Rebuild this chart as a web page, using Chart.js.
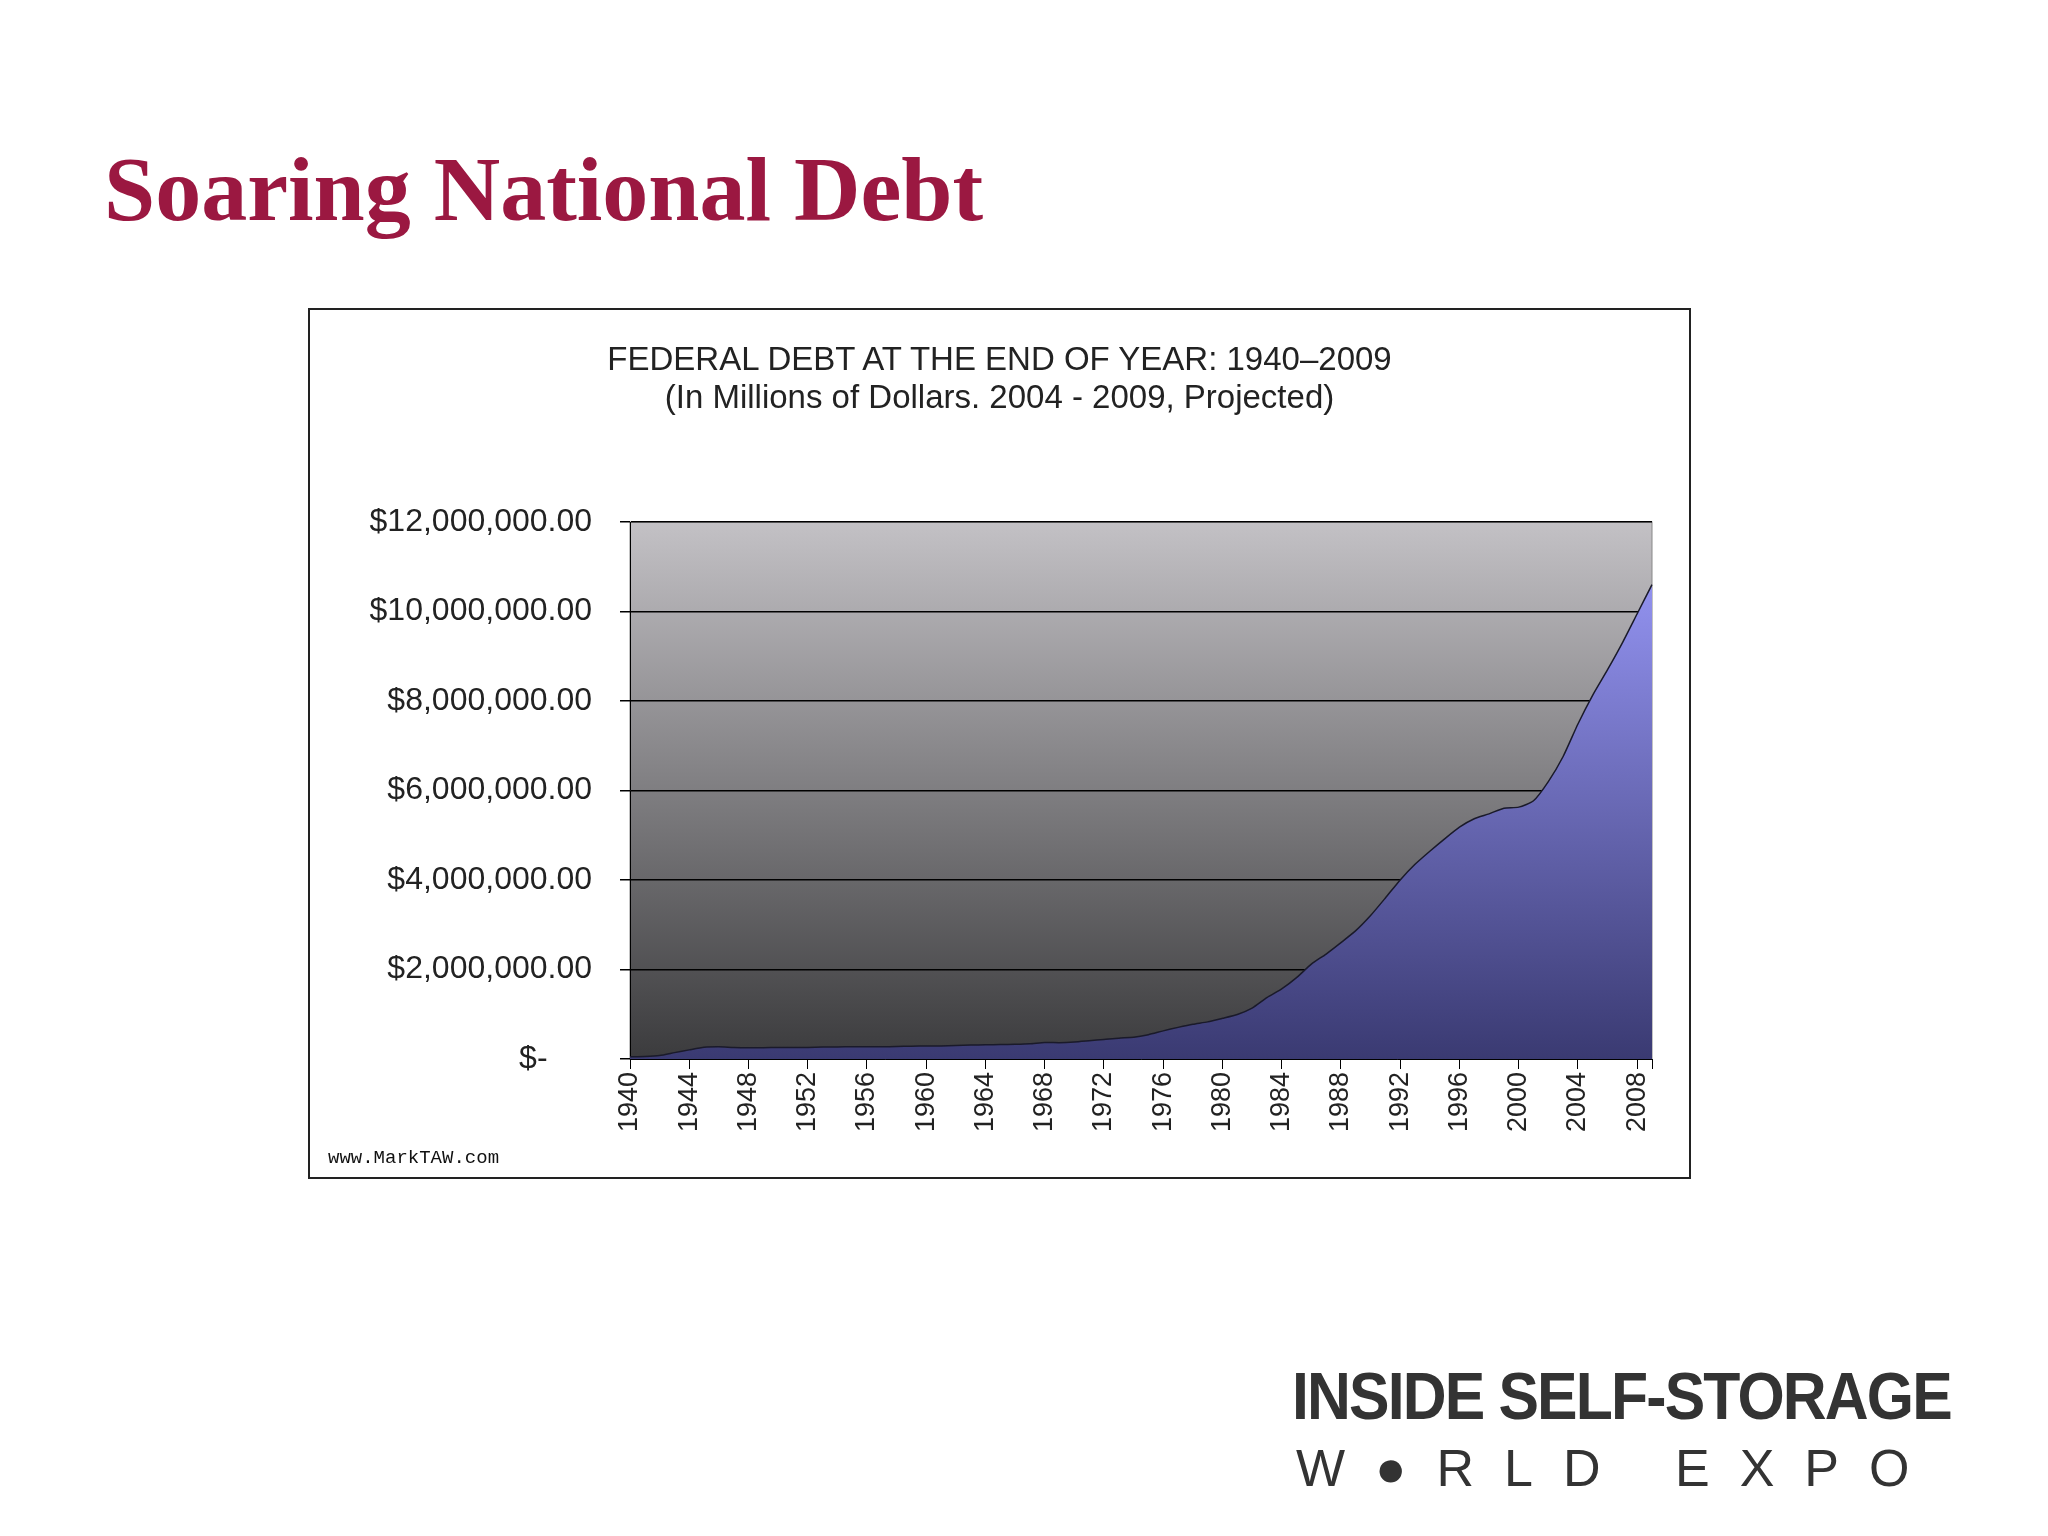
<!DOCTYPE html>
<html>
<head>
<meta charset="utf-8">
<script src="https://cdn.jsdelivr.net/npm/chart.js@4.4.0/dist/chart.umd.min.js"></script>
<style>
  body { margin: 0; width: 2048px; height: 1536px; background: #fff; position: relative; overflow: hidden; }
  #title { position: absolute; left: 104px; top: 136px; font: bold 92px "Liberation Serif", serif; color: #9b1841; }
  #box { position: absolute; left: 308px; top: 308px; width: 1379px; height: 867px; border: 2px solid #222; }
  #ctitle { position: absolute; left: 0; width: 100%; top: 30px; text-align: center; font: 33px "Liberation Sans", Arial, sans-serif; color: #222; line-height: 38px; }
  #url { position: absolute; left: 18px; bottom: 8px; font: 19px "Liberation Mono", monospace; color: #111; }
  #logo1 { position: absolute; left: 1292px; top: 1358px; font: bold 66px "Liberation Sans Narrow", "Liberation Sans", sans-serif; color: #333; letter-spacing: -2px; transform: scaleX(0.92); transform-origin: left; }
  #logo2 { position: absolute; left: 1296px; top: 1438px; font: 52px "Liberation Sans", sans-serif; color: #333; letter-spacing: 30px; }
</style>
</head>
<body>
<div id="title">Soaring National Debt</div>
<div id="box">
  <div id="ctitle">FEDERAL DEBT AT THE END OF YEAR: 1940–2009<br>(In Millions of Dollars. 2004 - 2009, Projected)</div>
  <canvas id="myChart" width="1379" height="867"></canvas>
  <div id="url">www.MarkTAW.com</div>
</div>
<div id="logo1">INSIDE SELF-STORAGE</div>
<div id="logo2">W●RLD EXPO</div>
<script>
let years = [];
for (let y = 1940; y <= 2009; y++) years.push(String(y));
let debt = [50696, 57531, 79200, 142648, 204079, 260123, 270991, 257149, 252031, 252610,
  256853, 255288, 259097, 265963, 270812, 274366, 272693, 272252, 279666, 287465,
  290525, 292648, 302928, 310324, 316059, 322318, 328498, 340445, 368685, 365769,
  380921, 408176, 435936, 466291, 483893, 541925, 628970, 706398, 776602, 829470,
  909041, 994828, 1137315, 1371660, 1564586, 1817423, 2120501, 2345956, 2601104, 2867800,
  3206290, 3598178, 4001787, 4351044, 4643307, 4920586, 5181465, 5369206, 5478189, 5605523,
  5628700, 5769881, 6198401, 6760014, 7486400, 8132000, 8700000, 9300000, 9950000, 10600000];
let yTicks = [0, 2000000, 4000000, 6000000, 8000000, 10000000, 12000000];

// plot background gradient
const bgPlugin = {
  id: 'bg',
  beforeDraw(chart) {
    const a = chart.chartArea, c = chart.ctx;
    const g = c.createLinearGradient(0, a.top, 0, a.bottom);
    g.addColorStop(0, '#c3c1c5');
    g.addColorStop(1, '#3b3b3d');
    c.save();
    c.fillStyle = g;
    c.fillRect(a.left, a.top, a.right - a.left, a.bottom - a.top);
    c.strokeStyle = '#888';
    c.strokeRect(a.left, a.top, a.right - a.left, a.bottom - a.top);
    c.restore();
  }
};

let ctx = document.getElementById('myChart').getContext('2d');
let myChart = new Chart(ctx, {
  type: 'line',
  data: {
    labels: years,
    datasets: [{
      data: debt,
      fill: 'origin',
      borderColor: '#1a1a2a',
      borderWidth: 1.5,
      pointRadius: 0,
      tension: 0.2,
      backgroundColor: (context) => {
        const a = context.chart.chartArea;
        if (!a) return '#7777cc';
        const g = context.chart.ctx.createLinearGradient(0, a.top, 0, a.bottom);
        g.addColorStop(0, '#9d9dff');
        g.addColorStop(1, '#3a3a72');
        return g;
      }
    }]
  },
  options: {
    responsive: false,
    animation: false,
    layout: { padding: { left: 0, right: 37, top: 212, bottom: 0 } },
    plugins: { legend: { display: false }, tooltip: { enabled: false } },
    scales: {
      x: {
        offset: false,
        afterFit: (s) => { s.height = 118; },
        grid: {
          drawOnChartArea: false, tickLength: 10,
          color: (c) => (c.index % 4 === 0 || c.index === years.length - 1) ? '#000' : 'rgba(0,0,0,0)'
        },
        border: { color: '#000' },
        ticks: {
          autoSkip: false, maxRotation: 90, minRotation: 90,
          color: '#222', font: { family: 'Liberation Sans', size: 27 },
          callback: function (v, i) { return (i % 4 === 0) ? years[i] : ''; }
        }
      },
      y: {
        min: 0, max: 12000000,
        afterFit: (s) => { s.width = 320; },
        afterBuildTicks: (s) => { s.ticks = yTicks.map(v => ({ value: v })); },
        grid: { color: '#000', lineWidth: 1.5, tickLength: 10 },
        border: { color: '#000' },
        ticks: {
          color: '#222', padding: 28, font: { family: 'Liberation Sans', size: 32 },
          callback: (v) => v === 0 ? '$-     ' : '$' + v.toLocaleString('en-US') + '.00'
        }
      }
    }
  },
  plugins: [bgPlugin]
});
</script>
</body>
</html>
